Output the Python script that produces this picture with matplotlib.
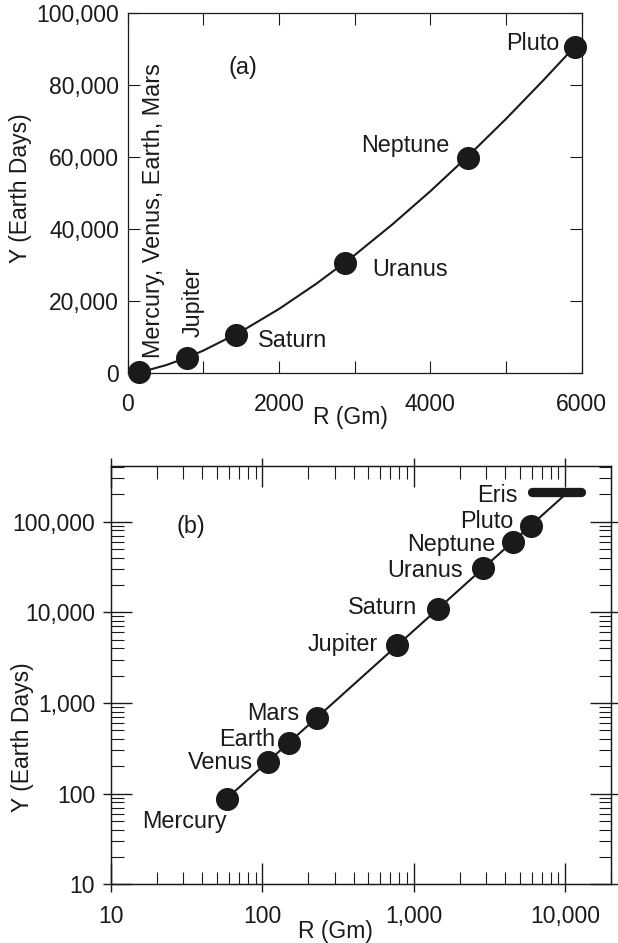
import matplotlib
matplotlib.use("Agg")
import matplotlib.pyplot as plt
from matplotlib.ticker import (MultipleLocator, FuncFormatter, LogLocator,
                               NullLocator, NullFormatter)

plt.rcParams['font.family'] = ['Liberation Sans', 'DejaVu Sans']

# ---------------- data ----------------
planet_names = ['Mercury', 'Venus', 'Earth', 'Mars', 'Jupiter',
                'Saturn', 'Uranus', 'Neptune', 'Pluto']
planet_R = [57.9, 108.2, 149.6, 227.9, 778.6, 1433.5, 2872.5, 4495.1, 5906.4]   # Gm
planet_Y = [88.0, 224.7, 365.2, 687.0, 4331, 10747, 30589, 59800, 90560]       # Earth days

# panel (a): inner four planets drawn as one marker (Earth), then the outer ones
top_marker_idx = [2, 4, 5, 6, 7, 8]

# smooth curve of panel (a)
curve_R = [57.9, 250, 500, 750, 1000, 1500, 2000, 2500, 3000, 3500, 4000,
           4500, 5000, 5500, 5906]
curve_Y = [88, 790, 2230, 4100, 6310, 11600, 17850, 24950, 32800, 41330,
           50500, 60270, 70560, 81410, 90560]

# straight line of panel (b) (log-log)
fit_R = [57.9, 10000]
fit_Y = [88, 199600]

# Eris: range of distance, period
eris_R = [6000, 12650]
eris_Y = [213000, 213000]

top_xticklabels = ['0', '2000', '4000', '6000']

INK = '#1a1a1a'
FS = 16.5      # tick labels / axis labels
FSL = 16.8     # planet labels

fig = plt.figure(figsize=(6.18, 9.43), dpi=100)
ax1 = fig.add_axes([0.2066, 0.6041, 0.7346, 0.3824])
ax2 = fig.add_axes([0.1796, 0.0622, 0.8091, 0.4436])

# ---------------- panel (a) ----------------
ax1.plot(curve_R, curve_Y, color=INK, lw=1.5, zorder=3, clip_on=False)
ax1.plot([planet_R[i] for i in top_marker_idx],
         [planet_Y[i] for i in top_marker_idx],
         'o', ms=15.6, color=INK, mec=INK, zorder=4, clip_on=False)
ax1.set_xlim(0, 6000)
ax1.set_ylim(0, 100000)
ax1.xaxis.set_major_locator(MultipleLocator(2000))
ax1.xaxis.set_minor_locator(MultipleLocator(1000))
ax1.yaxis.set_major_locator(MultipleLocator(20000))
ax1.set_xticks([0, 2000, 4000, 6000])
ax1.set_xticklabels(top_xticklabels)
ax1.yaxis.set_major_formatter(FuncFormatter(lambda v, p: f'{v:,.0f}'))
ax1.tick_params(which='both', direction='in', top=True, right=True,
                length=8.6, width=0.8, color=INK, labelsize=FS, labelcolor=INK)
ax1.tick_params(axis='x', which='both', pad=14.0)
ax1.tick_params(axis='y', which='both', pad=6.3)
for s in ax1.spines.values():
    s.set_linewidth(0.9)
    s.set_color(INK)

ax1.set_ylabel('Y (Earth Days)', fontsize=FS, color=INK)
ax1.yaxis.label.set_va('baseline')
ax1.yaxis.set_label_coords(-0.2225, 0.5139)
ax1.set_xlabel('R (Gm)', fontsize=FS, color=INK)
ax1.xaxis.label.set_va('baseline')
ax1.xaxis.set_label_coords(0.4907, -0.1392)

ax1.text(1529, 84940, '(a)', ha='center', va='center', fontsize=FSL, color=INK)
ax1.text(5709, 89660, 'Pluto', ha='right', va='baseline', fontsize=FSL, color=INK)
ax1.text(4251, 61450, 'Neptune', ha='right', va='baseline', fontsize=FSL, color=INK)
ax1.text(3235, 26980, 'Uranus', ha='left', va='baseline', fontsize=FSL, color=INK)
ax1.text(1725, 7380, 'Saturn', ha='left', va='baseline', fontsize=FSL, color=INK)
ax1.text(955, 10150, 'Jupiter', rotation=90, rotation_mode='anchor',
         ha='left', va='baseline', fontsize=FSL, color=INK)
ax1.text(427, 4240, 'Mercury, Venus, Earth, Mars', rotation=90,
         rotation_mode='anchor', ha='left', va='baseline', fontsize=FSL, color=INK)

# ---------------- panel (b) ----------------
ax2.set_xscale('log')
ax2.set_yscale('log')
ax2.plot(fit_R, fit_Y, color=INK, lw=1.5, zorder=3)
ax2.plot(planet_R, planet_Y, 'o', ms=15.6, color=INK, mec=INK, zorder=4)
ax2.plot(eris_R, eris_Y, color=INK, lw=6.7, solid_capstyle='round', zorder=4)
ax2.set_xlim(10, 20000)
ax2.set_ylim(10, 4.1e5)

comma = FuncFormatter(lambda v, p: f'{v:,.0f}')
ax2.xaxis.set_major_locator(LogLocator(base=10))
ax2.yaxis.set_major_locator(LogLocator(base=10))
ax2.xaxis.set_minor_locator(LogLocator(base=10, subs=range(2, 10)))
ax2.yaxis.set_minor_locator(LogLocator(base=10, subs=range(2, 10)))
ax2.xaxis.set_major_formatter(comma)
ax2.yaxis.set_major_formatter(comma)
ax2.xaxis.set_minor_formatter(NullFormatter())
ax2.yaxis.set_minor_formatter(NullFormatter())
ax2.tick_params(which='major', direction='in', top=True, right=True,
                length=15, width=1.0, color=INK, labelsize=FS, labelcolor=INK)
ax2.tick_params(which='minor', direction='in', top=True, right=True,
                length=9, width=0.8, color=INK)
ax2.tick_params(axis='x', which='major', pad=15.2)
ax2.tick_params(axis='y', which='major', pad=11.5)
for s in ax2.spines.values():
    s.set_linewidth(0.9)
    s.set_color(INK)

# outward stubs of the major ticks
for loc in ['top', 'bottom']:
    sx = ax2.secondary_xaxis(loc)
    sx.xaxis.set_major_locator(LogLocator(base=10))
    sx.xaxis.set_minor_locator(NullLocator())
    sx.xaxis.set_major_formatter(NullFormatter())
    sx.tick_params(direction='out', length=6, width=1.0, color=INK)
    for s in sx.spines.values():
        s.set_linewidth(0.9)
        s.set_color(INK)
for loc in ['left', 'right']:
    sy = ax2.secondary_yaxis(loc)
    sy.yaxis.set_major_locator(LogLocator(base=10))
    sy.yaxis.set_minor_locator(NullLocator())
    sy.yaxis.set_major_formatter(NullFormatter())
    sy.tick_params(direction='out', length=6, width=1.0, color=INK)
    for s in sy.spines.values():
        s.set_linewidth(0.9)
        s.set_color(INK)

ax2.set_ylabel('Y (Earth Days)', fontsize=FS, color=INK)
ax2.yaxis.label.set_va('baseline')
ax2.yaxis.set_label_coords(-0.164, 0.3529)
ax2.set_xlabel('R (Gm)', fontsize=FS, color=INK)
ax2.xaxis.label.set_va('baseline')
ax2.xaxis.set_label_coords(0.448, -0.1284)

ax2.text(33.8, 87700, '(b)', ha='center', va='center', fontsize=FSL, color=INK)
bottom_label_pos = {
    'Mercury': (58.0, 41.4),
    'Venus': (86.1, 185.4),
    'Earth': (122.2, 337.6),
    'Mars': (175.0, 647.9),
    'Jupiter': (580.7, 3733),
    'Saturn': (1051, 9484),
    'Uranus': (2105, 24600),
    'Neptune': (3452, 47860),
    'Pluto': (4504, 85900),
    'Eris': (4860, 165200),
}
for name, (x, y) in bottom_label_pos.items():
    ax2.text(x, y, name, ha='right', va='baseline', fontsize=FSL, color=INK)

fig.savefig('out.png', dpi=100)
